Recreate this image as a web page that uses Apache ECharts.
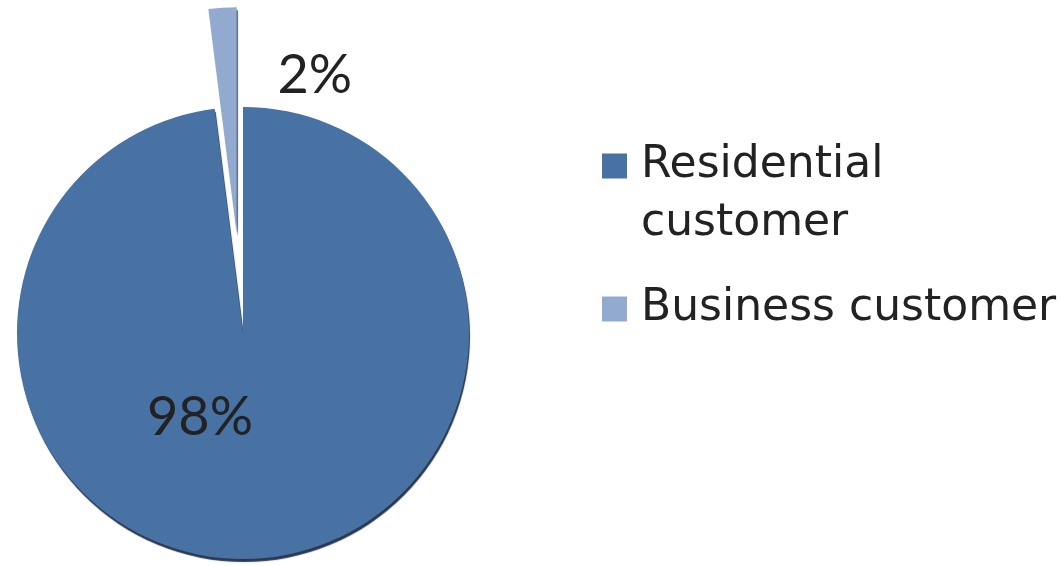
<!DOCTYPE html>
<html>
<head>
<meta charset="utf-8">
<script src="https://cdn.jsdelivr.net/npm/echarts@6/dist/echarts.min.js"></script>
<style>
  html, body { margin: 0; padding: 0; background: #ffffff; }
  #chart { width: 1061px; height: 566px; }
</style>
</head>
<body>
<div id="chart"></div>
<script>
// Customer split by segment
const categories = ['Residential customer', 'Business customer'];
const shares = [98, 2];
// legend wording; the leading blank line keeps the swatch level with the first line
const legendLabels = ['\nResidential\ncustomer', 'Business customer'];

const colors = ['#4872a4', '#93aad0'];
const textColor = '#222222';

const chart = echarts.init(document.getElementById('chart'), null, { renderer: 'canvas' });

// 98% label sits in the lower-left of the main slice; 2% label beside the pulled-out slice
const sliceLabels = [
  { position: 'inside' },
  { position: 'center', formatter: '{d}%\n\n\n\n', lineHeight: 79, padding: [0, 0, 0, 156] }
];

const data = categories.map((name, i) => ({
  name: name,
  value: shares[i],
  selected: i === 1,
  itemStyle: { color: colors[i] },
  label: sliceLabels[i]
}));

const legendText = {
  fontFamily: 'DejaVu Sans',
  fontSize: 44,
  color: textColor,
  lineHeight: 58,
  padding: [0, 0, 0, 9]
};

chart.setOption({
  animation: false,
  legend: [
    {
      data: [categories[0]],
      orient: 'vertical',
      left: 602,
      top: 79,
      padding: 0,
      itemWidth: 25,
      itemHeight: 25,
      icon: 'rect',
      formatter: () => legendLabels[0],
      textStyle: legendText
    },
    {
      data: [categories[1]],
      orient: 'vertical',
      left: 602,
      top: 280,
      padding: 0,
      itemWidth: 25,
      itemHeight: 25,
      icon: 'rect',
      formatter: () => legendLabels[1],
      textStyle: legendText
    }
  ],
  series: [{
    type: 'pie',
    center: [243, 333],
    radius: 226,
    startAngle: 90,
    clockwise: true,
    selectedMode: 'single',
    selectedOffset: 100,
    percentPrecision: 0,
    avoidLabelOverlap: false,
    labelLine: { show: false },
    itemStyle: {
      borderWidth: 0,
      shadowColor: 'rgba(18, 36, 64, 0.9)',
      shadowBlur: 1,
      shadowOffsetX: 1,
      shadowOffsetY: 3
    },
    label: {
      show: true,
      formatter: '{d}%',
      fontFamily: 'Lato',
      fontSize: 54,
      color: textColor
    },
    labelLayout: (params) => {
      if (params.dataIndex !== 0) return {};
      return { x: 200, y: 418, align: 'center', verticalAlign: 'middle' };
    },
    emphasis: { disabled: true },
    data: data
  }]
});
</script>
</body>
</html>
